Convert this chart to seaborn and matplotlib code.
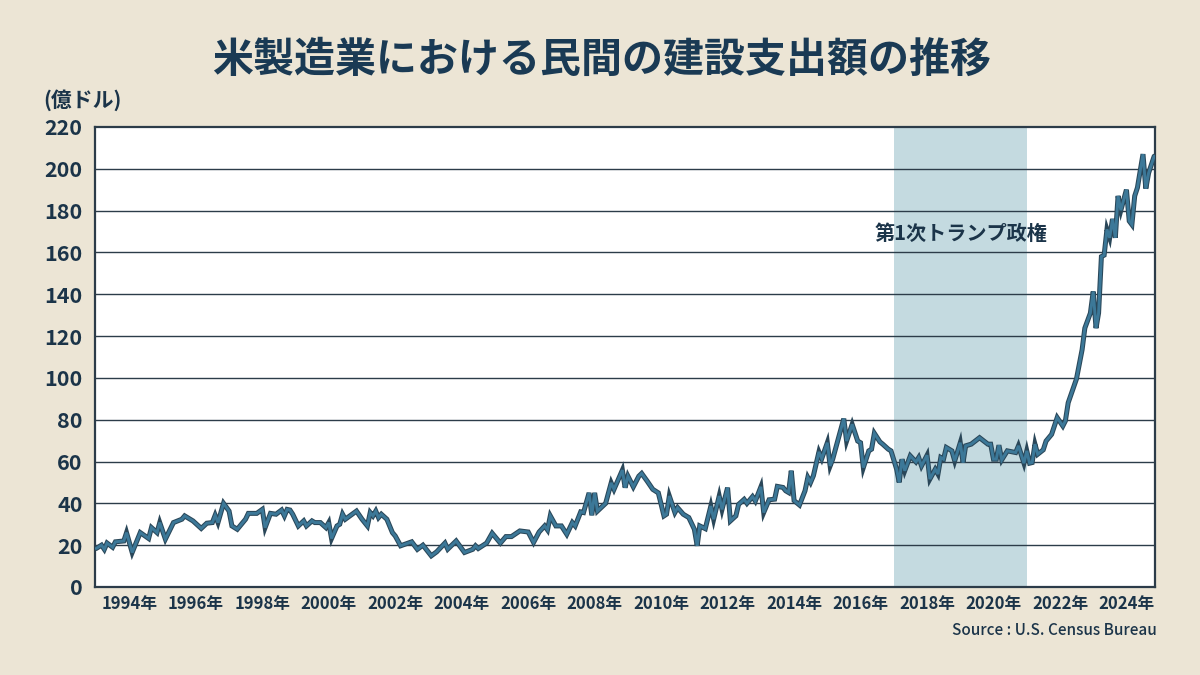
import matplotlib
matplotlib.use("Agg")
import matplotlib.pyplot as plt
import matplotlib.patheffects as pe
import pandas as pd
import seaborn as sns

# ---------------- data ----------------
title = "米製造業における民間の建設支出額の推移"
unit_label = "(億ドル)"
source_text = "Source : U.S. Census Bureau"
span_label = "第1次トランプ政権"
span_dates = ["2017-01-01", "2021-01-01"]

months = [
    "1993-01", "1993-03", "1993-04", "1993-05", "1993-07", "1993-08", "1993-11", "1993-12",
    "1994-02", "1994-05", "1994-08", "1994-09", "1994-11", "1994-12",
    "1995-02", "1995-05", "1995-08", "1995-09", "1995-12",
    "1996-03", "1996-05", "1996-07", "1996-08", "1996-09", "1996-11",
    "1997-01", "1997-02", "1997-04", "1997-07", "1997-08", "1997-11",
    "1998-01", "1998-02", "1998-04", "1998-06", "1998-08", "1998-09", "1998-10", "1998-11", "1998-12",
    "1999-02", "1999-04", "1999-05", "1999-07", "1999-08", "1999-10", "1999-12",
    "2000-01", "2000-02", "2000-04", "2000-05", "2000-06", "2000-07", "2000-11",
    "2001-01", "2001-03", "2001-04", "2001-05", "2001-06", "2001-07", "2001-08", "2001-10", "2001-12",
    "2002-01", "2002-03", "2002-07", "2002-09", "2002-11",
    "2003-02", "2003-04", "2003-07", "2003-08", "2003-11",
    "2004-02", "2004-05", "2004-06", "2004-07", "2004-10", "2004-12",
    "2005-03", "2005-05", "2005-07", "2005-10",
    "2006-01", "2006-03", "2006-05", "2006-07", "2006-08", "2006-09", "2006-11",
    "2007-01", "2007-03", "2007-05", "2007-06", "2007-08", "2007-09", "2007-11", "2007-12",
    "2008-01", "2008-02", "2008-05", "2008-07", "2008-08", "2008-11", "2008-12",
    "2009-01", "2009-03", "2009-05", "2009-06", "2009-08", "2009-10", "2009-12",
    "2010-02", "2010-03", "2010-04", "2010-06", "2010-07", "2010-09", "2010-11",
    "2011-01", "2011-02", "2011-03", "2011-05", "2011-07", "2011-08", "2011-10", "2011-11",
    "2012-01", "2012-02", "2012-04", "2012-05", "2012-07", "2012-08", "2012-10", "2012-11",
    "2013-01", "2013-02", "2013-04", "2013-06", "2013-07", "2013-09", "2013-10", "2013-11", "2013-12",
    "2014-01", "2014-03", "2014-05", "2014-06", "2014-07", "2014-08", "2014-10", "2014-11",
    "2015-01", "2015-02", "2015-03", "2015-07", "2015-08", "2015-10", "2015-12",
    "2016-01", "2016-02", "2016-04", "2016-05", "2016-06", "2016-08", "2016-09", "2016-11", "2016-12",
    "2017-02", "2017-03", "2017-04", "2017-05", "2017-07", "2017-09", "2017-10", "2017-11",
    "2018-01", "2018-02", "2018-04", "2018-05", "2018-06", "2018-07", "2018-08", "2018-10", "2018-11",
    "2019-01", "2019-02", "2019-03", "2019-05", "2019-08", "2019-11", "2019-12",
    "2020-01", "2020-02", "2020-03", "2020-04", "2020-06", "2020-09", "2020-10", "2020-12",
    "2021-01", "2021-02", "2021-03", "2021-04", "2021-05", "2021-07", "2021-08", "2021-10", "2021-12",
    "2022-02", "2022-03", "2022-04", "2022-07", "2022-09", "2022-10", "2022-12",
    "2023-01", "2023-02", "2023-03", "2023-04", "2023-05", "2023-06", "2023-07", "2023-08",
    "2023-09", "2023-10", "2023-11",
    "2024-01", "2024-02", "2024-03", "2024-04", "2024-05", "2024-07", "2024-08", "2024-09", "2024-11",
]

values = [
    18.4, 20, 18, 21, 19, 21.6, 22, 26,
    16.5, 26, 23.2, 28.4, 26, 30.8,
    22.9, 30.8, 32.4, 34, 31.6,
    28, 30.5, 30.8, 34.3, 30.8, 40,
    36.3, 29.2, 27.6, 32.4, 35.2, 35.2,
    37.1, 28.4, 35.2, 34.8, 36.8, 34, 37.1, 36.8, 34.8,
    29.2, 31.6, 29.2, 31.6, 30.8, 30.8, 28.4,
    30.8, 23.2, 29.2, 30, 34.8, 32.4, 36.3,
    32.4, 29.2, 35.6, 34, 36.3, 33.2, 34.8, 32.4, 26,
    24.4, 19.7, 21.6, 18, 20,
    14.9, 16.8, 21, 18.1, 22,
    16.5, 18, 19.7, 18.4, 21, 25.7,
    21, 24.1, 24.1, 26.8,
    26.3, 21.3, 26.3, 29.2, 27.3, 34, 29.2,
    29.2, 25.2, 30.8, 29.2, 35.9, 35.6, 45, 34.3,
    45, 36.3, 40, 49.8, 46.7, 55.9, 47.5,
    53, 47.9, 53, 54.3, 50.6, 46.7, 45,
    34, 34.8, 43.5, 35.6, 37.9, 34.8, 33.2,
    27.6, 19.7, 29.2, 27.9, 38.7, 32.4, 43.5, 37.1,
    47.5, 31.6, 34, 39.5, 41.9, 40, 43.2, 41.1,
    47.9, 35.6, 41.7, 42, 48.1, 47.6, 46, 45.2, 55.6,
    41.3, 39.2, 46, 52.4, 50, 53.2, 64.6, 61.4,
    69, 57.9, 61.1, 80.5, 69.8, 77.8, 69.8,
    69, 57.1, 65.1, 65.9, 73.5, 69.4, 68.3, 65.9, 65.1,
    56.3, 50, 61.1, 55.6, 62.7, 59.8, 61.9, 57.9,
    63, 51.6, 56.3, 54, 61.9, 61.1, 66.7, 65.1, 60.3,
    69, 59.5, 67.5, 68.3, 71.4, 68.3, 68.3,
    61.1, 61.1, 67.8, 60.8, 65.1, 64.3, 67.5, 59.2,
    65.1, 59.2, 59.5, 68.3, 63.5, 65.6, 69.8, 73, 81,
    77, 79.4, 88.1, 99.5, 113.5, 123.8, 131,
    141.3, 123.8, 131, 158, 158.7, 171, 167, 176,
    167, 187, 180.2,
    190, 175, 173.3, 187, 191, 207, 190.5, 198, 206,
]

y_ticks = [0, 20, 40, 60, 80, 100, 120, 140, 160, 180, 200, 220]
x_tick_dates = ["1994-01-01", "1996-01-01", "1998-01-01", "2000-01-01", "2002-01-01",
                "2004-01-01", "2006-01-01", "2008-01-01", "2010-01-01", "2012-01-01",
                "2014-01-01", "2016-01-01", "2018-01-01", "2020-01-01", "2022-01-01",
                "2024-01-01"]
x_tick_labels = ["1994年", "1996年", "1998年", "2000年", "2002年", "2004年", "2006年",
                 "2008年", "2010年", "2012年", "2014年", "2016年", "2018年", "2020年",
                 "2022年", "2024年"]

# ---------------- style ----------------
BG = "#ece5d5"
NAVY = "#1b3449"
TITLE_C = "#1a3a54"
LINE = "#3c7898"
LINE_EDGE = "#2a4759"
SHADE = "#c4dae0"
GRID = "#2c3c49"

sns.set_theme(style="white")
plt.rcParams["font.family"] = ["Noto Sans CJK JP", "DejaVu Sans"]

df = pd.DataFrame({"date": pd.to_datetime(months), "value": values})

fig = plt.figure(figsize=(12, 6.75), dpi=100, facecolor=BG)
ax = fig.add_axes([0.0792, 0.1304, 0.8833, 0.6815])
ax.set_facecolor("white")

ax.axvspan(pd.Timestamp(span_dates[0]), pd.Timestamp(span_dates[1]),
           color=SHADE, lw=0, zorder=1)

for yv in y_ticks[1:-1]:
    ax.axhline(yv, color=GRID, lw=1.0, zorder=2)

sns.lineplot(data=df, x="date", y="value", ax=ax, color=LINE, lw=2.1, zorder=3,
             solid_joinstyle="miter",
             path_effects=[pe.Stroke(linewidth=3.6, foreground=LINE_EDGE,
                                     joinstyle="miter"), pe.Normal()])

ax.set_ylim(0, 220)
ax.set_xlim(pd.Timestamp("1992-12-20"), pd.Timestamp("2024-11-10"))
ax.set_yticks(y_ticks)
ax.set_yticklabels([str(v) for v in y_ticks], fontsize=15.5, fontweight="bold", color=NAVY)
ax.set_xticks(pd.to_datetime(x_tick_dates))
ax.set_xticklabels(x_tick_labels, fontsize=12, fontweight="bold", color=NAVY)
ax.tick_params(axis="both", length=0)
ax.tick_params(axis="y", pad=9)
ax.tick_params(axis="x", pad=6)
ax.set_xlabel("")
ax.set_ylabel("")
for s in ax.spines.values():
    s.set_color(GRID)
    s.set_linewidth(1.6)
    s.set_visible(True)

ax.text(pd.Timestamp("2019-01-10"), 169, span_label, ha="center", va="center",
        fontsize=14.5, fontweight="bold", color=NAVY, zorder=4)

fig.text(0.501, 0.911, title, ha="center", va="center", fontsize=29.5,
         fontweight="bold", color=TITLE_C)
fig.text(0.036, 0.851, unit_label, ha="left", va="center", fontsize=15,
         fontweight="bold", color=NAVY)
fig.text(0.964, 0.066, source_text, ha="right", va="center", fontsize=11,
         fontweight="medium", color=NAVY)

fig.savefig("out.png", dpi=100, facecolor=BG)
